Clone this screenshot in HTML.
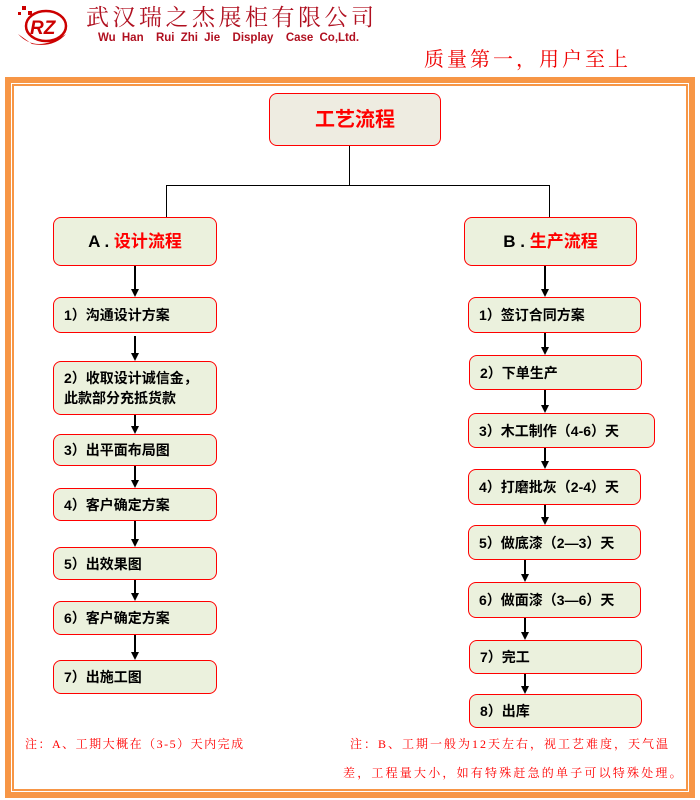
<!DOCTYPE html>
<html><head><meta charset="utf-8"><style>
body{margin:0;width:700px;height:800px;background:#fff;position:relative;overflow:hidden;font-family:"Liberation Sans","Noto Sans CJK SC",sans-serif}
.a{position:absolute}
.box{position:absolute;box-sizing:border-box;border:1.5px solid #f00;border-radius:8px;background:#ebf1dd;font-weight:bold;font-size:14px;color:#000;display:flex;align-items:center;padding-left:10px;line-height:20px}
.ln{position:absolute;background:#000}
.ar{position:absolute;width:0;height:0;border-left:4px solid transparent;border-right:4px solid transparent;border-top:8px solid #000}
.note{position:absolute;color:#f00;font-size:12px;line-height:14px;font-family:"Liberation Serif","Noto Serif CJK SC",serif;letter-spacing:1.5px;white-space:nowrap}
</style></head><body>
<div class="a" style="left:14px;top:4px;width:64px;height:42px">
<svg width="64" height="42"><path d="M4 30 Q22 50 52 30 Q40 44 18 40 Z" fill="#c00"/><ellipse cx="32" cy="22" rx="20" ry="15" fill="none" stroke="#c00" stroke-width="2.5"/><text x="16" y="30" font-family="Liberation Sans" font-weight="bold" font-style="italic" font-size="19" fill="#c00">RZ</text><rect x="8" y="2" width="4" height="4" fill="#c00"/><rect x="14" y="7" width="4" height="4" fill="#c00"/><rect x="4" y="8" width="3" height="3" fill="#c00"/></svg></div>
<div class="a" style="left:86px;top:5px;font-size:23px;line-height:26px;color:#b01020;font-family:'Liberation Serif','Noto Serif CJK SC',serif;letter-spacing:3.5px;white-space:nowrap">武汉瑞之杰展柜有限公司</div>
<div class="a" style="left:98px;top:32px;font-size:11.5px;line-height:13px;font-weight:bold;color:#b01020;word-spacing:3px;white-space:nowrap">Wu Han &nbsp;Rui Zhi Jie &nbsp;Display &nbsp;Case Co,Ltd.</div>
<div class="a" style="left:424px;top:48px;font-size:20px;line-height:24px;color:#e00;font-family:'Liberation Serif','Noto Serif CJK SC',serif;letter-spacing:3px;white-space:nowrap">质量第一，用户至上</div>
<div class="a" style="left:5px;top:77px;width:690px;height:721px;box-sizing:border-box;border:6px solid #f79646"></div>
<div class="a" style="left:12px;top:84px;width:676px;height:707px;box-sizing:border-box;border:2px solid #f79646"></div>

<div class="box" style="left:269px;top:93px;width:172px;height:53px;background:#eeece1;justify-content:center;padding:0;font-size:20px;color:#f00">工艺流程</div>
<div class="ln" style="left:349px;top:146px;width:1px;height:39px"></div>
<div class="ln" style="left:166px;top:185px;width:384px;height:1px"></div>
<div class="ln" style="left:166px;top:185px;width:1px;height:32px"></div>
<div class="ln" style="left:549px;top:185px;width:1px;height:32px"></div>
<div class="box" style="left:53px;top:217px;width:164px;height:49px;justify-content:center;padding:0;font-size:17px">A .&nbsp;<span style="color:#f00">设计流程</span></div>
<div class="box" style="left:464px;top:217px;width:173px;height:49px;justify-content:center;padding:0;font-size:17px">B .&nbsp;<span style="color:#f00">生产流程</span></div>

<div class="box" style="left:53px;top:297px;width:164px;height:36px">1）沟通设计方案</div>
<div class="box" style="left:53px;top:361px;width:164px;height:54px">2）收取设计诚信金，<br>此款部分充抵货款</div>
<div class="box" style="left:53px;top:434px;width:164px;height:32px">3）出平面布局图</div>
<div class="box" style="left:53px;top:488px;width:164px;height:33px">4）客户确定方案</div>
<div class="box" style="left:53px;top:547px;width:164px;height:33px">5）出效果图</div>
<div class="box" style="left:53px;top:601px;width:164px;height:34px">6）客户确定方案</div>
<div class="box" style="left:53px;top:660px;width:164px;height:34px">7）出施工图</div>

<div class="box" style="left:468px;top:297px;width:173px;height:36px">1）签订合同方案</div>
<div class="box" style="left:469px;top:355px;width:173px;height:35px">2）下单生产</div>
<div class="box" style="left:468px;top:413px;width:187px;height:35px">3）木工制作（4-6）天</div>
<div class="box" style="left:468px;top:469px;width:173px;height:36px">4）打磨批灰（2-4）天</div>
<div class="box" style="left:468px;top:525px;width:173px;height:35px">5）做底漆（2—3）天</div>
<div class="box" style="left:468px;top:582px;width:173px;height:36px">6）做面漆（3—6）天</div>
<div class="box" style="left:469px;top:640px;width:173px;height:34px">7）完工</div>
<div class="box" style="left:469px;top:694px;width:173px;height:34px">8）出库</div>

<div class="ln" style="left:134px;top:266px;width:2px;height:23px"></div><div class="ar" style="left:131px;top:289px"></div>
<div class="ln" style="left:134px;top:336px;width:2px;height:17px"></div><div class="ar" style="left:131px;top:353px"></div>
<div class="ln" style="left:134px;top:415px;width:2px;height:11px"></div><div class="ar" style="left:131px;top:426px"></div>
<div class="ln" style="left:134px;top:466px;width:2px;height:14px"></div><div class="ar" style="left:131px;top:480px"></div>
<div class="ln" style="left:134px;top:521px;width:2px;height:18px"></div><div class="ar" style="left:131px;top:539px"></div>
<div class="ln" style="left:134px;top:580px;width:2px;height:13px"></div><div class="ar" style="left:131px;top:593px"></div>
<div class="ln" style="left:134px;top:635px;width:2px;height:17px"></div><div class="ar" style="left:131px;top:652px"></div>
<div class="ln" style="left:544px;top:266px;width:2px;height:23px"></div><div class="ar" style="left:541px;top:289px"></div>
<div class="ln" style="left:544px;top:333px;width:2px;height:14px"></div><div class="ar" style="left:541px;top:347px"></div>
<div class="ln" style="left:544px;top:390px;width:2px;height:15px"></div><div class="ar" style="left:541px;top:405px"></div>
<div class="ln" style="left:544px;top:448px;width:2px;height:13px"></div><div class="ar" style="left:541px;top:461px"></div>
<div class="ln" style="left:544px;top:505px;width:2px;height:12px"></div><div class="ar" style="left:541px;top:517px"></div>
<div class="ln" style="left:524px;top:560px;width:2px;height:14px"></div><div class="ar" style="left:521px;top:574px"></div>
<div class="ln" style="left:524px;top:618px;width:2px;height:14px"></div><div class="ar" style="left:521px;top:632px"></div>
<div class="ln" style="left:524px;top:674px;width:2px;height:12px"></div><div class="ar" style="left:521px;top:686px"></div>

<div class="note" style="left:25px;top:737px">注：A、工期大概在（3-5）天内完成</div>
<div class="note" style="left:350px;top:737px;letter-spacing:2px">注：B、工期一般为12天左右，视工艺难度，天气温</div>
<div class="note" style="left:343px;top:766px;letter-spacing:2.2px">差，工程量大小，如有特殊赶急的单子可以特殊处理。</div>
</body></html>
